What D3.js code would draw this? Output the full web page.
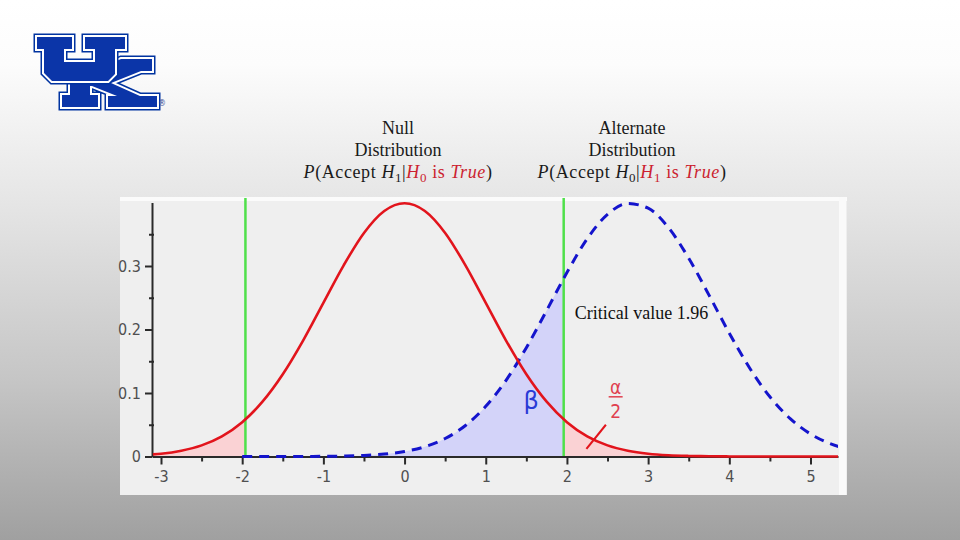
<!DOCTYPE html>
<html><head><meta charset="utf-8">
<script src="https://cdn.jsdelivr.net/npm/d3@7"></script>
<style>body{margin:0;background:#fff}svg{display:block}</style>
</head><body>
<svg id="c" width="960" height="540"></svg>
<script>
// ---------- data ----------
const xs = [-3.1, -3, -2.75, -2.5, -2.25, -2, -1.75, -1.5, -1.25, -1, -0.75, -0.5, -0.25, 0,
  0.25, 0.5, 0.75, 1, 1.25, 1.5, 1.75, 2, 2.25, 2.5, 2.75, 3, 3.25, 3.5, 3.75, 4,
  4.25, 4.5, 4.75, 5, 5.25, 5.35];
const nullDensity = [0.0033, 0.0044, 0.0091, 0.0175, 0.0317, 0.0540, 0.0863, 0.1295, 0.1826, 0.2420, 0.3011, 0.3521, 0.3867, 0.3989,
  0.3867, 0.3521, 0.3011, 0.2420, 0.1826, 0.1295, 0.0863, 0.0540, 0.0317, 0.0175, 0.0091, 0.0044, 0.0020, 0.0009, 0.0004, 0.0001,
  0, 0, 0, 0, 0, 0];
const altDensity = [0, 0, 0, 0, 0, 0, 0, 0.00004, 0.0001, 0.0003, 0.0007, 0.0017, 0.0038, 0.0079,
  0.0154, 0.0283, 0.0488, 0.0790, 0.1200, 0.1714, 0.2299, 0.2897, 0.3430, 0.3814, 0.3984, 0.3910, 0.3605, 0.3123, 0.2541, 0.1942,
  0.1394, 0.0940, 0.0596, 0.0355, 0.0198, 0.0154];
const criticalValue = 1.96;
const xTicks = [-3, -2, -1, 0, 1, 2, 3, 4, 5];
const xMinorTicks = [-2.5, -1.5, -0.5, 0.5, 1.5, 2.5, 3.5, 4.5];
const yTicks = [0, 0.1, 0.2, 0.3];
const yMinorTicks = [0.05, 0.15, 0.25, 0.35];
const nullTitle = ["Null", "Distribution"];
const altTitle = ["Alternate", "Distribution"];
const nullFormula = [
  {t:"P", i:true}, {t:"(Accept "}, {t:"H", i:true}, {t:"1", sub:true}, {t:"|"},
  {t:"H", i:true, red:true}, {t:"0", sub:true, red:true}, {t:" is ", red:true}, {t:"True", i:true, red:true}, {t:")"}];
const altFormula = [
  {t:"P", i:true}, {t:"(Accept "}, {t:"H", i:true}, {t:"0", sub:true}, {t:"|"},
  {t:"H", i:true, red:true}, {t:"1", sub:true, red:true}, {t:" is ", red:true}, {t:"True", i:true, red:true}, {t:")"}];
const critLabel = "Critical value 1.96";

// ---------- drawing ----------
const svg = d3.select("#c");
const defs = svg.append("defs");
const bg = defs.append("linearGradient").attr("id","bg").attr("x1",0).attr("y1",0).attr("x2",0).attr("y2",1);
[[0,"#ffffff"],[0.12,"#fcfcfc"],[0.4,"#e3e3e3"],[0.7,"#c6c6c6"],[1,"#a0a0a0"]]
  .forEach(([o,c]) => bg.append("stop").attr("offset",o).attr("stop-color",c));
svg.append("rect").attr("width",960).attr("height",540).attr("fill","url(#bg)");

// logo
const logo = svg.append("g");
const Kpts = [[70,64],[90,64],[90,72],[121,59],[152,59],[152,71],[141,71],[111,83],[140,96],[157,96],[157,107],[108,107],[108,96],[117,96],[92,86],[90,86],[90,95],[98,95],[98,107],[62,107],[62,95],[70,95]];
const Upts = [[37,37],[72,37],[72,49],[64,49],[64,62],[95,62],[95,49],[85,49],[85,37],[125,37],[125,49],[115,49],[115,74],[108,81],[52,81],[44,73],[44,49],[37,49]];
[Kpts, Upts].forEach(p => {
  const d = "M" + p.map(q => q.join(",")).join("L") + "Z";
  logo.append("path").attr("d",d).attr("fill","none").attr("stroke","#0033a0").attr("stroke-width",7).attr("stroke-linejoin","miter");
  logo.append("path").attr("d",d).attr("fill","none").attr("stroke","#ffffff").attr("stroke-width",4).attr("stroke-linejoin","miter");
  logo.append("path").attr("d",d).attr("fill","#0b35a8");
});
logo.append("text").attr("x",158).attr("y",106).attr("font-size",8).attr("fill","#3a4f9a")
  .attr("font-family","DejaVu Sans, sans-serif").text("®");

// titles
function title(cx, lines, formula) {
  const g = svg.append("g").attr("font-family","Liberation Serif, Times New Roman, serif").attr("font-size",18).attr("fill","#1a1a1a");
  lines.forEach((l,i) => g.append("text").attr("x",cx).attr("y",134 + i*22).attr("text-anchor","middle").text(l));
  const t = g.append("text").attr("x",cx).attr("y",178).attr("text-anchor","middle").attr("letter-spacing",0.6);
  let shift = 0;
  formula.forEach(p => {
    const s = t.append("tspan").text(p.t);
    if (p.i) s.attr("font-style","italic");
    if (p.red) s.attr("fill","#cc1f30");
    const target = p.sub ? 4 : 0;
    s.attr("dy", target - shift); shift = target;
    if (p.sub) s.attr("font-size",13);
  });
}
title(398, nullTitle, nullFormula);
title(632, altTitle, altFormula);

// panel
svg.append("rect").attr("x",120).attr("y",197).attr("width",727).attr("height",298).attr("fill","#efefef");
svg.append("rect").attr("x",120).attr("y",197).attr("width",727).attr("height",4).attr("fill","#fbfbfb");
svg.append("rect").attr("x",839).attr("y",197).attr("width",7).attr("height",298).attr("fill","#fafafa");

const x = d3.scaleLinear().domain([-3,5]).range([161,810.5]);
const y = d3.scaleLinear().domain([0,0.4]).range([456.5,202.5]);
const left = 152, right = 838;
const xAxisScale = x.copy().domain([x.invert(left), x.invert(right)]).range([left, right]);

const pts = xs.map((v,i) => ({x:v, n:nullDensity[i], a:altDensity[i]}));

function clip(id, x0, x1) {
  defs.append("clipPath").attr("id",id).append("rect")
    .attr("x",x0).attr("y",190).attr("width",x1-x0).attr("height",270);
}
clip("plot", left, right);
clip("lowTail", left, x(-criticalValue));
clip("highTail", x(criticalValue), right);
clip("beta", left, x(criticalValue));

const nullArea = d3.area().x(d=>x(d.x)).y0(y(0)).y1(d=>y(d.n)).curve(d3.curveMonotoneX);
const altArea = d3.area().x(d=>x(d.x)).y0(y(0)).y1(d=>y(d.a)).curve(d3.curveMonotoneX);
svg.append("path").datum(pts).attr("d",altArea).attr("fill","#d3d3f9").attr("clip-path","url(#beta)");
svg.append("path").datum(pts).attr("d",nullArea).attr("fill","#fad2d4").attr("clip-path","url(#lowTail)");
svg.append("path").datum(pts).attr("d",nullArea).attr("fill","#fad2d4").attr("clip-path","url(#highTail)");

// critical lines
[-criticalValue, criticalValue].forEach(c => {
  svg.append("line").attr("x1",x(c)).attr("x2",x(c)).attr("y1",198).attr("y2",y(0))
    .attr("stroke","#4fe04a").attr("stroke-width",2.5);
});

// axes
const fnt = "DejaVu Sans Condensed, Liberation Sans Narrow, sans-serif";
function styleAxis(g) {
  g.selectAll("path.domain").attr("stroke","#2a2a2a").attr("stroke-width",2);
  g.selectAll(".tick line").attr("stroke","#2a2a2a").attr("stroke-width",2);
  g.selectAll(".tick text").attr("fill","#505050").attr("font-family",fnt).attr("font-size",16);
}
const gx = svg.append("g").attr("transform",`translate(0,${y(0)})`)
  .call(d3.axisBottom(xAxisScale).tickValues(xTicks).tickSize(8).tickSizeOuter(0).tickPadding(6).tickFormat(d => String(d)));
styleAxis(gx);
const gxm = svg.append("g").attr("transform",`translate(0,${y(0)})`)
  .call(d3.axisBottom(xAxisScale).tickValues(xMinorTicks).tickSize(5).tickFormat(""));
gxm.select("path.domain").remove(); styleAxis(gxm);
const gy = svg.append("g").attr("transform",`translate(${left},0)`)
  .call(d3.axisLeft(y).tickValues(yTicks).tickSize(7).tickSizeOuter(0).tickPadding(4).tickFormat(d => d===0 ? "0" : d3.format(".1f")(d)));
styleAxis(gy);
const gym = svg.append("g").attr("transform",`translate(${left+2},0)`)
  .call(d3.axisLeft(y).tickValues(yMinorTicks).tickSize(5).tickFormat(""));
gym.select("path.domain").remove(); styleAxis(gym);

// curves
const altLine = d3.line().x(d=>x(d.x)).y(d=>y(d.a)).curve(d3.curveMonotoneX);
const nullLine = d3.line().x(d=>x(d.x)).y(d=>y(d.n)).curve(d3.curveMonotoneX);
svg.append("path").datum(pts.filter(d => d.x >= -2)).attr("d",altLine).attr("fill","none")
  .attr("stroke","#1414cc").attr("stroke-width",3).attr("stroke-dasharray","10,7").attr("clip-path","url(#plot)");
svg.append("path").datum(pts).attr("d",nullLine).attr("fill","none")
  .attr("stroke","#e2141c").attr("stroke-width",2.6).attr("clip-path","url(#plot)");

// annotations
svg.append("text").attr("x",x(1.56)).attr("y",y(0.075)).attr("text-anchor","middle")
  .attr("font-family","DejaVu Sans, sans-serif").attr("font-size",24).attr("fill","#2a3bd6").text("β");
const ag = svg.append("g").attr("font-family",fnt).attr("font-size",19).attr("fill","#e0404e").attr("text-anchor","middle");
ag.append("text").attr("x",x(2.6)).attr("y",y(0.098)).text("α");
ag.append("line").attr("x1",x(2.6)-7).attr("x2",x(2.6)+7).attr("y1",y(0.094)).attr("y2",y(0.094))
  .attr("stroke","#e0404e").attr("stroke-width",1.5);
ag.append("text").attr("x",x(2.6)).attr("y",y(0.061)).text("2");
svg.append("line").attr("x1",x(2.24)).attr("y1",y(0.012)).attr("x2",x(2.48)).attr("y2",y(0.05))
  .attr("stroke","#e2141c").attr("stroke-width",2);

svg.append("text").attr("x",x(criticalValue)+11).attr("y",319)
  .attr("font-family","Liberation Serif, Times New Roman, serif").attr("font-size",18).attr("fill","#111")
  .text(critLabel);
</script>
</body></html>
